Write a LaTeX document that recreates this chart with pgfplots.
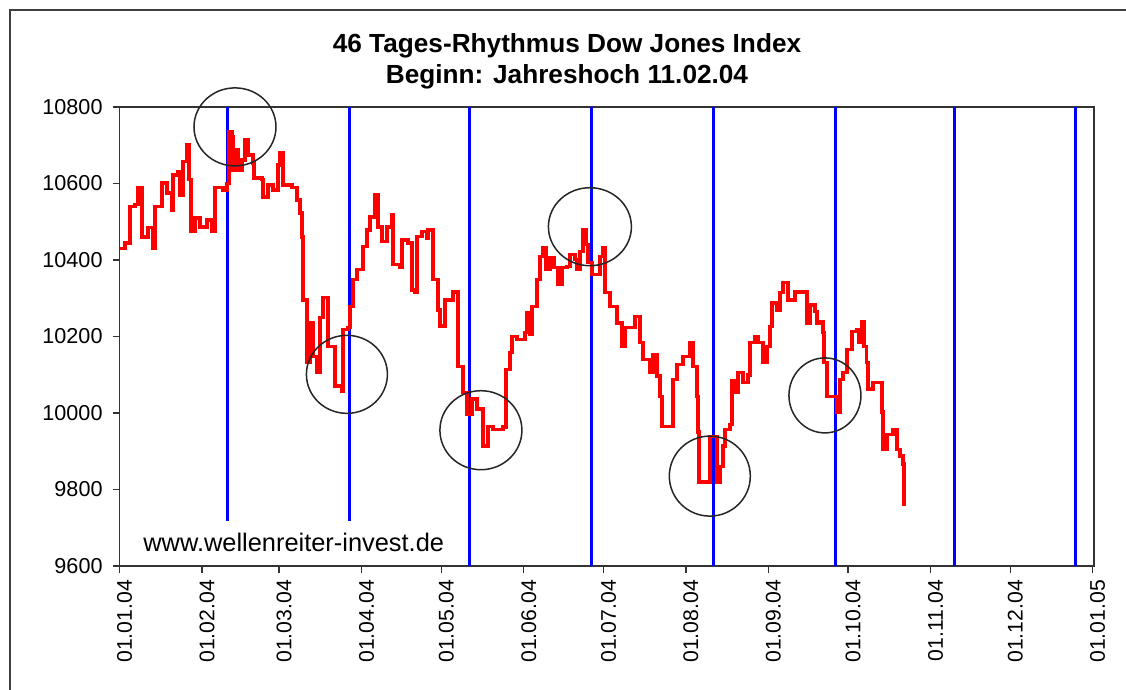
\documentclass[border=0pt]{standalone}
\usepackage{fontspec}
\setmainfont{Liberation Sans}
\usepackage{pgfplots}
\pgfplotsset{compat=1.18}
\begin{document}
\begin{tikzpicture}[x=1pt,y=1pt]
\useasboundingbox (0,0) rectangle (563,345);
\clip (0,0) rectangle (563,345);
\fill[white] (0,0) rectangle (563,345);
% outer chart frame
\draw[black!75, line width=0.8pt] (5,-20) -- (5,340) -- (600,340);
% titles
\node[anchor=base, font=\bfseries\fontsize{13.1}{15}\selectfont] at (283.5,318.5) {46 Tages-Rhythmus Dow Jones Index};
\node[anchor=base, font=\bfseries\fontsize{13.1}{15}\selectfont] at (283.5,303) {Beginn: Jahreshoch 11.02.04};
\begin{axis}[
  at={(59.8pt,62pt)}, anchor=south west,
  scale only axis, width=487.2pt, height=229.5pt,
  xmin=0, xmax=366.5, ymin=9600, ymax=10800,
  clip=false,
  axis line style={black!80, line width=0.8pt},
  tick align=outside, tick pos=left,
  major tick length=3.5pt,
  tick style={black!80, line width=0.7pt},
  xtick={0,31,60,91,121,152,182,213,244,274,305,335,366},
  xticklabels={01.01.04,01.02.04,01.03.04,01.04.04,01.05.04,01.06.04,01.07.04,01.08.04,01.09.04,01.10.04,01.11.04,01.12.04,01.01.05},
  xticklabel style={rotate=90, anchor=east, yshift=-2.5pt, font=\fontsize{10.6}{12}\selectfont},
  ytick={9600,9800,10000,10200,10400,10600,10800},
  yticklabel style={xshift=-1.5pt, font=\fontsize{10.8}{12}\selectfont, /pgf/number format/1000 sep={}, /pgf/number format/assume math mode=true},
  scaled y ticks=false,
]
% 46-day rhythm lines
\addplot[blue, line width=1.5pt, forget plot] coordinates {(40.5,10800) (40.5,9717)};
\addplot[blue, line width=1.5pt, forget plot] coordinates {(86.3,10800) (86.3,9717)};
\addplot[blue, line width=1.5pt, forget plot] coordinates {(131.5,10800) (131.5,9600)};
\addplot[blue, line width=1.5pt, forget plot] coordinates {(177.5,10800) (177.5,9600)};
\addplot[blue, line width=1.5pt, forget plot] coordinates {(223.3,10800) (223.3,9600)};
\addplot[blue, line width=1.5pt, forget plot] coordinates {(269.3,10800) (269.3,9600)};
\addplot[blue, line width=1.5pt, forget plot] coordinates {(314.2,10800) (314.2,9600)};
\addplot[blue, line width=1.5pt, forget plot] coordinates {(359.7,10800) (359.7,9600)};
% Dow Jones
\addplot[red, line width=1.8pt, line join=miter, const plot, mark=none] coordinates {
(0.2,10430)(2.0,10445)(3.9,10540)(5.8,10545)(6.9,10590)(8.4,10460)(10.7,10485)(12.6,10432)(13.3,10540)(15.9,10602)(17.8,10575)(19.7,10530)(20.1,10622)(22.0,10630)(22.7,10570)(23.8,10657)(25.3,10700)(26.1,10610)(26.9,10475)(28.4,10510)(30.2,10487)(32.9,10505)(34.7,10475)(35.9,10590)(38.9,10583)(40.4,10600)(41.1,10735)(42.3,10722)(42.6,10635)(44.2,10688)(44.5,10635)(46.0,10662)(47.2,10714)(48.3,10675)(50.2,10654)(50.5,10615)(53.6,10610)(53.9,10565)(55.8,10596)(57.7,10583)(59.6,10649)(60.3,10680)(61.4,10596)(64.8,10590)(66.7,10557)(67.8,10523)(68.6,10460)(69.0,10296)(70.5,10132)(71.6,10236)(72.7,10148)(74.2,10106)(75.4,10250)(76.5,10302)(78.0,10302)(78.4,10174)(81.0,10070)(83.6,10057)(84.0,10218)(85.9,10223)(86.6,10278)(87.8,10349)(89.3,10375)(90.4,10375)(91.5,10435)(93.0,10479)(94.2,10513)(96.0,10570)(97.2,10487)(98.7,10448)(100.5,10487)(102.4,10518)(102.8,10388)(105.4,10380)(106.2,10453)(108.4,10445)(109.9,10322)(111.0,10315)(111.8,10461)(113.7,10474)(115.6,10458)(116.0,10479)(117.5,10479)(117.8,10349)(119.7,10270)(120.5,10228)(122.4,10296)(125.4,10317)(127.3,10122)(129.1,10054)(130.6,9996)(132.5,10036)(134.4,10010)(136.6,9913)(138.5,9965)(140.4,9957)(144.2,9963)(145.3,10114)(146.8,10158)(147.6,10200)(149.5,10192)(152.4,10210)(153.2,10262)(154.3,10205)(155.1,10278)(157.0,10349)(158.1,10409)(159.2,10432)(160.4,10375)(161.8,10406)(163.4,10380)(164.9,10336)(166.4,10380)(168.2,10383)(169.4,10414)(171.3,10401)(172.0,10375)(173.2,10422)(174.3,10479)(175.4,10440)(176.2,10393)(177.6,10362)(179.5,10362)(180.7,10409)(181.8,10432)(182.5,10315)(184.4,10278)(187.1,10236)(189.0,10174)(190.0,10223)(193.8,10252)(195.7,10184)(196.8,10140)(199.5,10106)(200.6,10153)(202.1,10096)(203.2,10043)(204.0,9965)(207.0,9965)(208.1,10088)(209.6,10127)(211.9,10148)(214.5,10184)(215.6,10122)(217.1,10043)(217.5,9950)(217.9,9819)(221.2,9819)(222.0,9939)(223.9,9939)(224.7,9819)(225.8,9860)(226.9,9913)(227.7,9957)(229.6,9970)(230.3,10083)(231.4,10054)(232.6,10106)(234.4,10080)(236.3,10100)(237.0,10184)(238.9,10200)(240.1,10184)(241.9,10132)(243.5,10174)(244.6,10226)(245.4,10288)(247.2,10270)(248.4,10315)(249.5,10341)(251.4,10296)(254.0,10317)(257.8,10317)(258.5,10236)(259.6,10283)(261.5,10265)(262.3,10236)(263.4,10239)(264.5,10210)(264.9,10132)(266.0,10043)(267.9,10043)(269.8,10002)(270.9,10088)(272.0,10106)(273.5,10166)(275.4,10213)(277.3,10218)(278.0,10184)(279.2,10239)(279.9,10174)(281.0,10132)(281.4,10062)(283.3,10080)(285.2,10080)(286.7,10002)(287.1,9905)(288.6,9944)(290.8,9957)(292.4,9905)(293.5,9887)(294.6,9866)(295.0,9756)
};
% circles
\draw[black!85, line width=0.75pt] (axis cs:43.4,10748) ellipse [x radius=20.5pt, y radius=19.5pt];
\draw[black!85, line width=0.75pt] (axis cs:85.5,10101) ellipse [x radius=20.25pt, y radius=19.5pt];
\draw[black!85, line width=0.75pt] (axis cs:135.9,9955) ellipse [x radius=20.5pt, y radius=19.75pt];
\draw[black!85, line width=0.75pt] (axis cs:176.9,10487) ellipse [x radius=20.75pt, y radius=19.5pt];
\draw[black!85, line width=0.75pt] (axis cs:222.0,9835) ellipse [x radius=20.25pt, y radius=20pt];
\draw[black!85, line width=0.75pt] (axis cs:265.3,10046) ellipse [x radius=18pt, y radius=18.75pt];
\end{axis}
% watermark
\node[anchor=base west, inner sep=0pt, font=\fontsize{12.7}{15}\selectfont] at (71.5,69) {www.wellenreiter-invest.de};
\end{tikzpicture}
\end{document}
